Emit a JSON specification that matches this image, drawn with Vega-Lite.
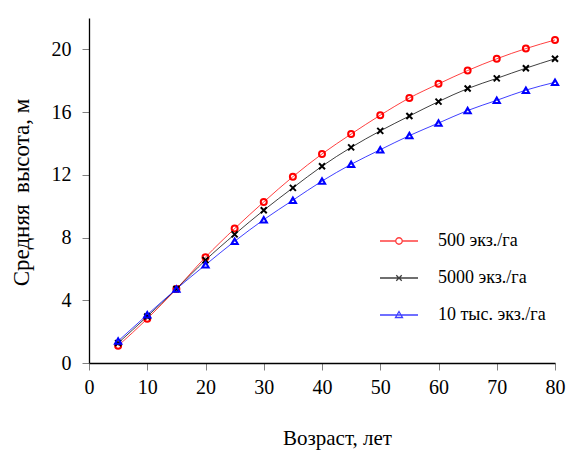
{
  "$schema": "https://vega.github.io/schema/vega-lite/v6.json",
  "width": 466,
  "height": 345,
  "autosize": {"type": "none"},
  "padding": {"left": 89, "top": 18, "right": 13, "bottom": 88},
  "background": "white",
  "config": {
    "view": {"stroke": null},
    "font": "Liberation Serif",
    "axis": {"grid": false, "domainColor": "black", "tickColor": "#808080", "labelColor": "black", "titleColor": "black", "titleFontWeight": "normal", "labelFontSize": 20, "titleFontSize": 22, "tickSize": 7, "domainWidth": 1.3, "labelFont": "Liberation Serif", "titleFont": "Liberation Serif", "labelFlush": false, "labelOverlap": false},
    "legend": {"labelFont": "Liberation Serif"}
  },
  "data": {"values": [
    {"age": 5, "h": 1.1, "s": "500 экз./га"},
    {"age": 10, "h": 2.82, "s": "500 экз./га"},
    {"age": 15, "h": 4.72, "s": "500 экз./га"},
    {"age": 20, "h": 6.75, "s": "500 экз./га"},
    {"age": 25, "h": 8.57, "s": "500 экз./га"},
    {"age": 30, "h": 10.27, "s": "500 экз./га"},
    {"age": 35, "h": 11.88, "s": "500 экз./га"},
    {"age": 40, "h": 13.33, "s": "500 экз./га"},
    {"age": 45, "h": 14.6, "s": "500 экз./га"},
    {"age": 50, "h": 15.8, "s": "500 экз./га"},
    {"age": 55, "h": 16.9, "s": "500 экз./га"},
    {"age": 60, "h": 17.8, "s": "500 экз./га"},
    {"age": 65, "h": 18.65, "s": "500 экз./га"},
    {"age": 70, "h": 19.4, "s": "500 экз./га"},
    {"age": 75, "h": 20.05, "s": "500 экз./га"},
    {"age": 80, "h": 20.6, "s": "500 экз./га"},
    {"age": 5, "h": 1.27, "s": "5000 экз./га"},
    {"age": 10, "h": 2.97, "s": "5000 экз./га"},
    {"age": 15, "h": 4.72, "s": "5000 экз./га"},
    {"age": 20, "h": 6.56, "s": "5000 экз./га"},
    {"age": 25, "h": 8.2, "s": "5000 экз./га"},
    {"age": 30, "h": 9.74, "s": "5000 экз./га"},
    {"age": 35, "h": 11.17, "s": "5000 экз./га"},
    {"age": 40, "h": 12.55, "s": "5000 экз./га"},
    {"age": 45, "h": 13.75, "s": "5000 экз./га"},
    {"age": 50, "h": 14.8, "s": "5000 экз./га"},
    {"age": 55, "h": 15.75, "s": "5000 экз./га"},
    {"age": 60, "h": 16.67, "s": "5000 экз./га"},
    {"age": 65, "h": 17.5, "s": "5000 экз./га"},
    {"age": 70, "h": 18.15, "s": "5000 экз./га"},
    {"age": 75, "h": 18.8, "s": "5000 экз./га"},
    {"age": 80, "h": 19.4, "s": "5000 экз./га"},
    {"age": 5, "h": 1.4, "s": "10 тыс. экз./га"},
    {"age": 10, "h": 3.08, "s": "10 тыс. экз./га"},
    {"age": 15, "h": 4.72, "s": "10 тыс. экз./га"},
    {"age": 20, "h": 6.26, "s": "10 тыс. экз./га"},
    {"age": 25, "h": 7.76, "s": "10 тыс. экз./га"},
    {"age": 30, "h": 9.14, "s": "10 тыс. экз./га"},
    {"age": 35, "h": 10.38, "s": "10 тыс. экз./га"},
    {"age": 40, "h": 11.6, "s": "10 тыс. экз./га"},
    {"age": 45, "h": 12.67, "s": "10 тыс. экз./га"},
    {"age": 50, "h": 13.6, "s": "10 тыс. экз./га"},
    {"age": 55, "h": 14.5, "s": "10 тыс. экз./га"},
    {"age": 60, "h": 15.3, "s": "10 тыс. экз./га"},
    {"age": 65, "h": 16.1, "s": "10 тыс. экз./га"},
    {"age": 70, "h": 16.75, "s": "10 тыс. экз./га"},
    {"age": 75, "h": 17.4, "s": "10 тыс. экз./га"},
    {"age": 80, "h": 17.9, "s": "10 тыс. экз./га"}
  ]},
  "encoding": {
    "x": {"field": "age", "type": "quantitative", "scale": {"domain": [0, 80], "nice": false}, "axis": {"values": [0, 10, 20, 30, 40, 50, 60, 70, 80], "title": "Возраст, лет", "titleX": 248, "titleY": 64, "labelPadding": 7, "titleFontSize": 21}},
    "y": {"field": "h", "type": "quantitative", "scale": {"domain": [0, 22], "nice": false}, "axis": {"values": [0, 4, 8, 12, 16, 20], "title": "Средняя\u00a0\u00a0высота, м", "titleFontSize": 23, "titleX": -56, "titleY": 174, "labelPadding": 11}},
    "color": {"field": "s", "type": "nominal", "sort": ["500 экз./га", "5000 экз./га", "10 тыс. экз./га"], "scale": {"domain": ["500 экз./га", "5000 экз./га", "10 тыс. экз./га"], "range": ["#ff0000", "#000000", "#0000ff"]},
      "legend": {"title": null, "orient": "none", "legendX": 301, "legendY": 214, "padding": 0, "symbolSize": 100, "symbolStrokeWidth": 1.3, "labelOffset": 30, "labelFontSize": 18, "labelFont": "Liberation Serif", "labelColor": "black", "rowPadding": 19}}
  },
  "layer": [
    {"mark": {"type": "line", "interpolate": "monotone", "strokeWidth": 1, "opacity": 0.75}},
    {"transform": [{"filter": "datum.s == '500 экз./га'"}],
     "mark": {"type": "point", "shape": "circle", "filled": false, "strokeWidth": 2, "opacity": 1, "size": 36}},
    {"transform": [{"filter": "datum.s == '5000 экз./га'"}],
     "mark": {"type": "point", "shape": "M-1,-1L1,1M-1,1L1,-1", "filled": false, "strokeWidth": 2, "opacity": 1, "size": 36}},
    {"transform": [{"filter": "datum.s == '10 тыс. экз./га'"}],
     "mark": {"type": "point", "shape": "triangle-up", "filled": false, "strokeWidth": 2, "opacity": 1, "size": 40}},
    {"transform": [{"filter": "datum.age < 0"}],
     "mark": {"type": "point", "filled": false, "strokeWidth": 1.3, "opacity": 1, "size": 100},
     "encoding": {"shape": {"field": "s", "type": "nominal", "scale": {"domain": ["500 экз./га", "5000 экз./га", "10 тыс. экз./га"], "range": ["M-3.8,0L-0.65,0M0.65,0L3.8,0M0.65,0A0.65,0.65,0,1,1,-0.65,0A0.65,0.65,0,1,1,0.65,0", "M-3.8,0L3.8,0M-0.55,-0.55L0.55,0.55M-0.55,0.55L0.55,-0.55", "M-3.8,0L3.8,0M0,-0.7L0.7,0.5L-0.7,0.5Z"]},
       "legend": {"title": null, "orient": "none", "legendX": 301, "legendY": 214, "padding": 0, "symbolSize": 100, "symbolStrokeWidth": 1.3, "labelOffset": 30, "labelFontSize": 18, "labelFont": "Liberation Serif", "labelColor": "black", "rowPadding": 19}}}}
  ]
}
